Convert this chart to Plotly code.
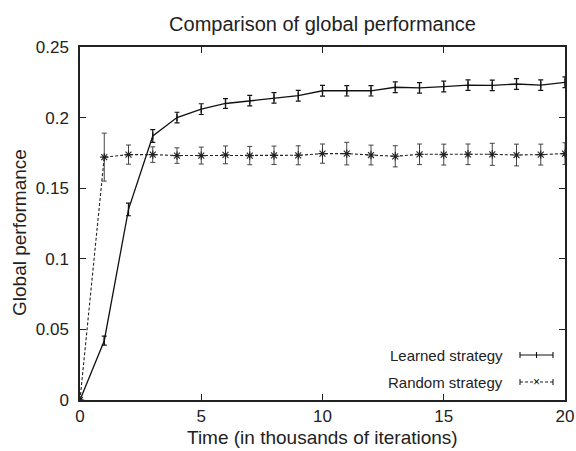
import plotly.graph_objects as go

# Data
time_k = list(range(0, 21))
learned = [0.0, 0.042, 0.135, 0.187, 0.200, 0.206, 0.210, 0.212, 0.214, 0.2155,
           0.219, 0.219, 0.219, 0.2215, 0.221, 0.222, 0.223, 0.2228, 0.2238, 0.223, 0.225]
learned_err = [0.0, 0.0032, 0.0045, 0.0045, 0.0038, 0.0038, 0.0034, 0.0037, 0.0037, 0.0038,
               0.0038, 0.0037, 0.0037, 0.0038, 0.0037, 0.0038, 0.0037, 0.0037, 0.0038, 0.0037, 0.0038]
random_s = [0.0, 0.172, 0.1738, 0.1738, 0.1731, 0.1731, 0.1736, 0.1731, 0.1733, 0.1733,
            0.1745, 0.1745, 0.1735, 0.1726, 0.174, 0.1738, 0.174, 0.174, 0.1735, 0.1738, 0.1745]
random_err = [0.0, 0.017, 0.0068, 0.0055, 0.0055, 0.006, 0.0063, 0.0065, 0.0065, 0.0067,
              0.0068, 0.008, 0.007, 0.0075, 0.0073, 0.0074, 0.0073, 0.0078, 0.0077, 0.0074, 0.0077]

x_ticks = [0, 5, 10, 15, 20]
y_ticks = [0, 0.05, 0.1, 0.15, 0.2, 0.25]

FONT = "Liberation Sans, Arial, Helvetica, sans-serif"
INK = "#222222"

fig = go.Figure()

fig.add_trace(go.Scatter(
    x=time_k, y=learned, mode="lines+markers", name="Learned strategy",
    line=dict(color="#111111", width=1.3),
    marker=dict(symbol="line-ns-open", size=5, color="#111111", line=dict(width=1.2, color="#111111")),
    error_y=dict(type="data", array=learned_err, visible=True, color="#111111", thickness=1.2, width=2.5),
    showlegend=False,
))

fig.add_trace(go.Scatter(
    x=time_k, y=random_s, mode="lines+markers", name="Random strategy",
    line=dict(color="#222222", width=1.1, dash="3px,2px"),
    marker=dict(symbol="asterisk-open", size=7, color="#222222", line=dict(width=1.1, color="#222222")),
    error_y=dict(type="data", array=random_err, visible=True, color="#444444", thickness=1.0, width=2.5),
    showlegend=False,
))

# Custom legend (text on the left, sample on the right, like the original)
legend_items = [
    ("Learned strategy", 355, "solid", "#111111"),
    ("Random strategy", 382, "3px,2px", "#222222"),
]
W, H = 576, 451
ml, mr, mt, mb = 80, 11, 47, 51
pw, ph = W - ml - mr, H - mt - mb

def px_to_paper_x(px):
    return (px - ml) / pw

def px_to_paper_y(py):
    return 1 - (py - mt) / ph

shapes = []
annotations = []
for label, py, dash, col in legend_items:
    yy = px_to_paper_y(py)
    annotations.append(dict(
        x=px_to_paper_x(505), y=yy, xref="paper", yref="paper",
        text=label, showarrow=False, xanchor="right", yanchor="middle",
        font=dict(family=FONT, size=15, color=INK),
    ))
    x0, x1 = px_to_paper_x(520), px_to_paper_x(553)
    shapes.append(dict(type="line", xref="paper", yref="paper", x0=x0, x1=x1, y0=yy, y1=yy,
                       line=dict(color=col, width=1.1, dash=dash)))
    for xe in (x0, x1):
        shapes.append(dict(type="line", xref="paper", yref="paper", x0=xe, x1=xe,
                           y0=yy - 3 / ph, y1=yy + 3 / ph, line=dict(color=col, width=1.1)))
# center markers of legend samples
cx = px_to_paper_x(536.5)
yl = px_to_paper_y(355)
shapes.append(dict(type="line", xref="paper", yref="paper", x0=cx, x1=cx,
                   y0=yl - 3 / ph, y1=yl + 3 / ph, line=dict(color="#111111", width=1.1)))
yr = px_to_paper_y(382)
annotations.append(dict(x=cx, y=yr, xref="paper", yref="paper", text="×", showarrow=False,
                        xanchor="center", yanchor="middle",
                        font=dict(family=FONT, size=12, color="#222222")))

# Axis titles as annotations (placed like the original)
annotations.append(dict(
    x=px_to_paper_x(322), y=px_to_paper_y(437), xref="paper", yref="paper",
    text="Time (in thousands of iterations)", showarrow=False,
    xanchor="center", yanchor="middle", borderpad=0,
    font=dict(family=FONT, size=19, color=INK),
))
annotations.append(dict(
    x=px_to_paper_x(19), y=px_to_paper_y(233), xref="paper", yref="paper",
    text="Global performance", showarrow=False, textangle=-90,
    xanchor="center", yanchor="middle",
    font=dict(family=FONT, size=19, color=INK),
))

axis_common = dict(
    showline=True, linecolor="#222222", linewidth=1.5, mirror="ticks",
    ticks="inside", ticklen=6, tickwidth=1, tickcolor="#222222",
    showgrid=False, zeroline=False, automargin=False,
    tickfont=dict(family=FONT, size=17, color=INK),
)

fig.update_layout(
    width=W, height=H,
    margin=dict(l=ml, r=mr, t=mt, b=mb, autoexpand=False),
    paper_bgcolor="white", plot_bgcolor="white",
    title=dict(text="Comparison of global performance", x=0.5, xref="paper",
               y=1 - 24 / H, yanchor="middle",
               font=dict(family=FONT, size=20, color=INK)),
    xaxis=dict(range=[0, 20], tickvals=x_ticks, ticklabelstandoff=0, **axis_common),
    yaxis=dict(range=[0, 0.25], tickvals=y_ticks, ticklabelstandoff=6, **axis_common),
    shapes=shapes, annotations=annotations,
    showlegend=False,
)

fig.write_html("out.html")
